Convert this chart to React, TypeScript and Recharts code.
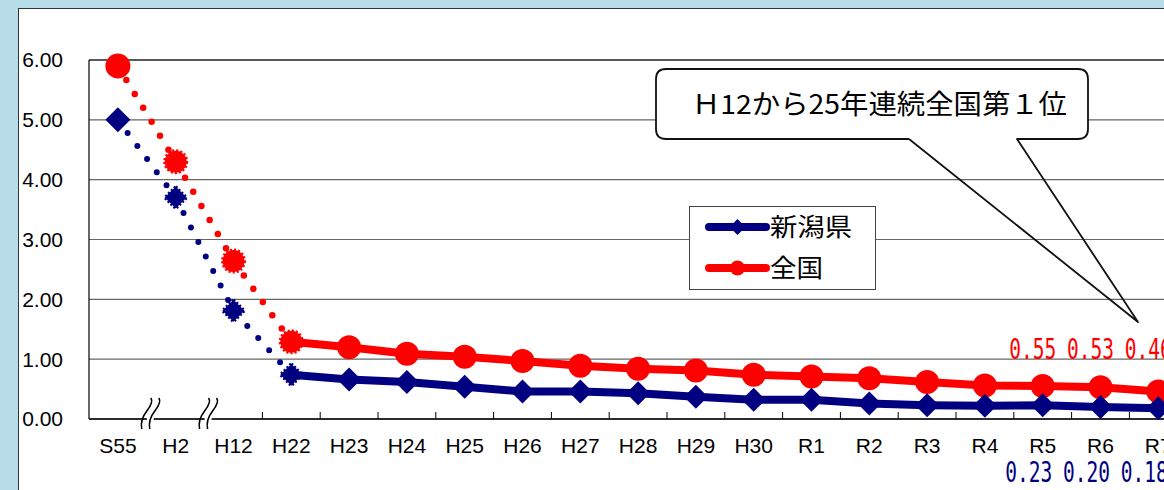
// 歯科健診: 12歳児一人平均むし歯数の推移（新潟県・全国）
import { CartesianGrid, LabelList, Line, LineChart, ReferenceLine, XAxis, YAxis } from 'recharts'

// 年度
const categories = ['S55', 'H2', 'H12', 'H22', 'H23', 'H24', 'H25', 'H26', 'H27', 'H28', 'H29', 'H30', 'R1', 'R2', 'R3', 'R4', 'R5', 'R6', 'R7']
// 新潟県
const niigata = [5.0, 3.7, 1.81, 0.74, 0.66, 0.62, 0.54, 0.46, 0.46, 0.43, 0.37, 0.32, 0.32, 0.26, 0.23, 0.22, 0.23, 0.2, 0.18]
// 全国
const zenkoku = [5.9, 4.3, 2.64, 1.29, 1.2, 1.09, 1.04, 0.97, 0.89, 0.84, 0.81, 0.74, 0.71, 0.68, 0.62, 0.56, 0.55, 0.53, 0.46]
const yTicks = [0, 1, 2, 3, 4, 5, 6]
// H22 までは点線、それ以降は実線
const SPLIT = 3
const LABEL_FROM = 16

const NAVY = '#000080'
const RED = '#ff0000'
const FONT = '"Liberation Sans", Arial, sans-serif'
const JP = '"Noto Sans CJK JP", sans-serif'

const W = 1230
const H = 490
const MARGIN = { top: 60, right: 42.8, bottom: 41, left: 19 }
const Y_W = 70
const STEP = (W - MARGIN.left - Y_W - MARGIN.right) / categories.length

const data = categories.map((cat, i) => ({
  cat,
  niigataEarly: i <= SPLIT ? niigata[i] : null,
  niigataLate: i >= SPLIT ? niigata[i] : null,
  zenkokuEarly: i <= SPLIT ? zenkoku[i] : null,
  zenkokuLate: i >= SPLIT ? zenkoku[i] : null,
}))

function Diamond({ cx, cy, r, color, fuzzy }: any) {
  const pts = `${cx},${cy - r} ${cx + r},${cy} ${cx},${cy + r} ${cx - r},${cy}`
  return (
    <polygon
      points={pts}
      fill={color}
      stroke={color}
      strokeWidth={fuzzy ? 3 : 0}
      strokeDasharray={fuzzy ? '2 2' : undefined}
    />
  )
}

function Circle({ cx, cy, r, color, fuzzy }: any) {
  return (
    <circle
      cx={cx}
      cy={cy}
      r={r}
      fill={color}
      stroke={color}
      strokeWidth={fuzzy ? 3 : 0}
      strokeDasharray={fuzzy ? '2 2' : undefined}
    />
  )
}

const earlyDot = (shape: 'd' | 'c', color: string) => (p: any) => {
  const { cx, cy, index } = p
  if (cx == null || cy == null || index > SPLIT) return <g key={`e${index}`} />
  const fuzzy = index > 0
  return (
    <g key={`e${index}`}>
      {shape === 'd' ? (
        <Diamond cx={cx} cy={cy} r={fuzzy ? 11 : 12.5} color={color} fuzzy={fuzzy} />
      ) : (
        <Circle cx={cx} cy={cy} r={fuzzy ? 11 : 12.5} color={color} fuzzy={fuzzy} />
      )}
    </g>
  )
}

const lateDot = (shape: 'd' | 'c', color: string) => (p: any) => {
  const { cx, cy, index } = p
  if (cx == null || cy == null || index <= SPLIT) return <g key={`l${index}`} />
  return (
    <g key={`l${index}`}>
      {shape === 'd' ? <Diamond cx={cx} cy={cy} r={12} color={color} /> : <Circle cx={cx} cy={cy} r={12} color={color} />}
    </g>
  )
}

// 軸の省略記号 (≈)
function BreakMark({ x, y }: { x: number; y: number }) {
  const s = (dx: number) =>
    `M ${x + dx - 5} ${y + 10} Q ${x + dx - 7} ${y + 1} ${x + dx} ${y - 8} T ${x + dx + 4} ${y - 21}`
  return (
    <g>
      <rect x={x - 4} y={y - 2} width={7} height={4} fill="#fff" />
      <path d={s(-4)} fill="none" stroke="#000" strokeWidth={1.6} />
      <path d={s(4)} fill="none" stroke="#000" strokeWidth={1.6} />
    </g>
  )
}

function XTick(props: any) {
  const { x, y, payload, index } = props
  const right = x + STEP / 2
  return (
    <g>
      <text x={x} y={y + 34} textAnchor="middle" fill="#000" fontSize={21} fontFamily={FONT}>
        {payload.value}
      </text>
      {index < 2 ? (
        <BreakMark x={right + 4} y={y} />
      ) : (
        <line x1={right} x2={right} y1={y} y2={y - 7} stroke="#000" strokeWidth={1} />
      )}
    </g>
  )
}

const valueLabel = (color: string, ty: number, dx: number) => (p: any) => {
  const { x, value, index } = p
  if (index < LABEL_FROM || value == null) return null
  return (
    <text
      x={x + dx}
      y={ty}
      textAnchor="middle"
      fill={color}
      fontSize={28}
      fontFamily='"DejaVu Sans Mono", monospace'
      textLength={47}
      lengthAdjust="spacingAndGlyphs"
    >
      {Number(value).toFixed(2)}
    </text>
  )
}

function LegendBox() {
  return (
    <svg width={187} height={84} style={{ position: 'absolute', left: 689, top: 206 }}>
      <rect x={0.5} y={0.5} width={186} height={83} fill="#fff" stroke="#444" />
      <line x1={20} x2={77} y1={21} y2={21} stroke={NAVY} strokeWidth={8} strokeLinecap="round" />
      <Diamond cx={48.5} cy={21} r={8} color={NAVY} />
      <text x={81} y={30} fontSize={25} fontFamily={JP} fill="#000" textLength={82} lengthAdjust="spacingAndGlyphs">
        新潟県
      </text>
      <line x1={20} x2={77} y1={62} y2={62} stroke={RED} strokeWidth={8} strokeLinecap="round" />
      <Circle cx={48.5} cy={62} r={7.5} color={RED} />
      <text x={81} y={71} fontSize={25} fontFamily={JP} fill="#000" textLength={53} lengthAdjust="spacingAndGlyphs">
        全国
      </text>
    </svg>
  )
}

function Callout() {
  const outline =
    'M 909 139 L 666 139 Q 656 139 656 129 L 656 79 Q 656 69 666 69 L 1078 69 Q 1088 69 1088 79 L 1088 129 Q 1088 139 1078 139 L 1017 139 L 1138 322 L 909 139'
  return (
    <svg width={1164} height={490} style={{ position: 'absolute', left: 0, top: 0, pointerEvents: 'none' }}>
      <rect x={656} y={69} width={432} height={70} rx={10} fill="#fff" />
      <path d={outline} fill="none" stroke="#111" strokeWidth={1.8} strokeLinejoin="round" />
      <text x={692} y={114} fontSize={27} fontFamily={JP} fill="#000" textLength={375} lengthAdjust="spacingAndGlyphs">
        Ｈ12から25年連続全国第１位
      </text>
    </svg>
  )
}

export default function App() {
  return (
    <div style={{ position: 'absolute', left: 0, top: 0, width: 1164, height: 490, overflow: 'hidden', background: '#b7dde8' }}>
      <div
        style={{
          position: 'absolute',
          left: 18,
          top: 8,
          right: -2,
          bottom: -2,
          background: '#fff',
          borderLeft: '1.5px solid #333',
          borderTop: '1.5px solid #333',
        }}
      />
      <div style={{ position: 'absolute', left: 0, top: 0 }}>
        <LineChart width={W} height={H} data={data} margin={MARGIN}>
          <CartesianGrid vertical={false} stroke="#666" strokeWidth={1.2} />
          <XAxis
            dataKey="cat"
            type="category"
            padding={{ left: STEP / 2, right: STEP / 2 }}
            height={30}
            interval={0}
            axisLine={{ stroke: '#000', strokeWidth: 1.5 }}
            tickLine={false}
            tickSize={0}
            tickMargin={0}
            tick={<XTick />}
          />
          <YAxis
            domain={[0, 6]}
            ticks={yTicks}
            width={Y_W}
            axisLine={{ stroke: '#000', strokeWidth: 1.2 }}
            tickLine={false}
            tickSize={0}
            tickMargin={26}
            tickFormatter={(v: number) => v.toFixed(2)}
            tick={{ fill: '#000', fontSize: 21, fontFamily: FONT }}
          />
          <ReferenceLine y={6} stroke="#000" strokeWidth={1.2} />
          <Line
            dataKey="zenkokuEarly"
            stroke={RED}
            strokeWidth={6.5}
            strokeDasharray="0 16.3"
            strokeLinecap="round"
            dot={earlyDot('c', RED)}
            activeDot={false}
            isAnimationActive={false}
          />
          <Line
            dataKey="zenkokuLate"
            stroke={RED}
            strokeWidth={8}
            dot={lateDot('c', RED)}
            activeDot={false}
            isAnimationActive={false}
          >
            <LabelList dataKey="zenkokuLate" content={valueLabel(RED, 359, -10)} />
          </Line>
          <Line
            dataKey="niigataEarly"
            stroke={NAVY}
            strokeWidth={6}
            strokeDasharray="0 16.3"
            strokeLinecap="round"
            dot={earlyDot('d', NAVY)}
            activeDot={false}
            isAnimationActive={false}
          />
          <Line
            dataKey="niigataLate"
            stroke={NAVY}
            strokeWidth={8}
            dot={lateDot('d', NAVY)}
            activeDot={false}
            isAnimationActive={false}
          >
            <LabelList dataKey="niigataLate" content={valueLabel(NAVY, 482, -14)} />
          </Line>
        </LineChart>
      </div>
      <LegendBox />
      <Callout />
    </div>
  )
}
